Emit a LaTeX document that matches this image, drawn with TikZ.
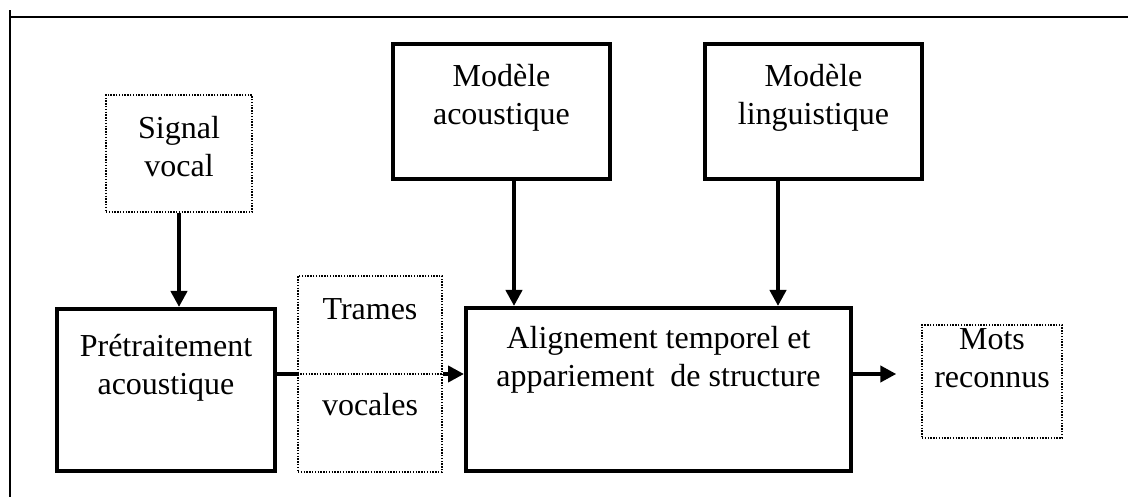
\documentclass[tikz,border=0pt]{standalone}
\usepackage{fontspec}
\setmainfont{Liberation Serif}
\usetikzlibrary{arrows.meta, positioning}

\tikzset{
  boite/.style={draw, line width=4pt, inner sep=0pt},
  pointille/.style={draw, line width=1.4pt, dash pattern=on 1.4pt off 1.4pt, inner sep=0pt},
  texte/.style={align=center, inner sep=0pt, font=\fontsize{32}{38}\selectfont},
  trait/.style={line width=4pt},
  fleche/.style={line width=4pt, -{Triangle[length=16pt, width=16pt]}},
}

\begin{document}
\begin{tikzpicture}[x=1pt, y=-1pt]
    \useasboundingbox (0,0) rectangle (1128,497);

    % 0. cadre
    \draw[line width=2pt] (10,497) -- (10,10);
    \draw[line width=2pt] (10,17) -- (1128,17);

    % 1. entree et pretraitement
    \node[pointille, minimum width=146pt, minimum height=117pt] (signal) at (179,153.5) {};
    \node[texte] (signaltxt) at (179,147) {Signal\\vocal};
    \node[boite, minimum width=218pt, minimum height=162pt] (pretrait) at (166,390) {};
    \node[texte] (pretraittxt) at (166,368) {Prétraitement\\acoustique};

    % 2. trames vocales (coupe en deux)
    \node[pointille, minimum width=144pt, minimum height=196pt] (trames) at (370,374) {};
    \node[texte] (tramestxt) at (370,309) {Trames};
    \node[texte] (vocalestxt) at (370,405) {vocales};

    % 3. modeles
    \node[boite, minimum width=217pt, minimum height=135pt] (acoust) at (501.5,111.5) {};
    \node[texte] (acousttxt) at (501.5,98) {Modèle\\acoustique};
    \node[boite, minimum width=217pt, minimum height=135pt] (lingu) at (813.5,111.5) {};
    \node[texte] (lingutxt) at (813.5,98) {Modèle\\linguistique};

    % 4. alignement et sortie
    \node[boite, minimum width=385pt, minimum height=163pt] (align) at (658.5,389.5) {};
    \node[texte] (aligntxt) at (658.5,360) {Alignement temporel et\\appariement\ \ de structure};
    \node[pointille, minimum width=140pt, minimum height=113pt] (mots) at (992,381.5) {};
    \node[texte] (motstxt) at (992,358) {Mots\\reconnus};

    % 5. liaisons
    \draw[fleche] (signal.south) -- (signal.south |- pretrait.north);
    \draw[trait] (pretrait.east |- trames.center) -- (trames.west);
    \draw[pointille] (trames.west) -- (trames.east);
    \draw[fleche] (trames.east) -- (align.west |- trames.center);
    \draw[fleche] ([xshift=12.5pt]acoust.south) -- ([xshift=12.5pt]acoust.south |- align.north);
    \draw[fleche] ([xshift=-35.5pt]lingu.south) -- ([xshift=-35.5pt]lingu.south |- align.north);
    \draw[fleche, shorten >=25pt] (align.east |- trames.center) -- (mots.west |- trames.center);

\end{tikzpicture}
\end{document}
